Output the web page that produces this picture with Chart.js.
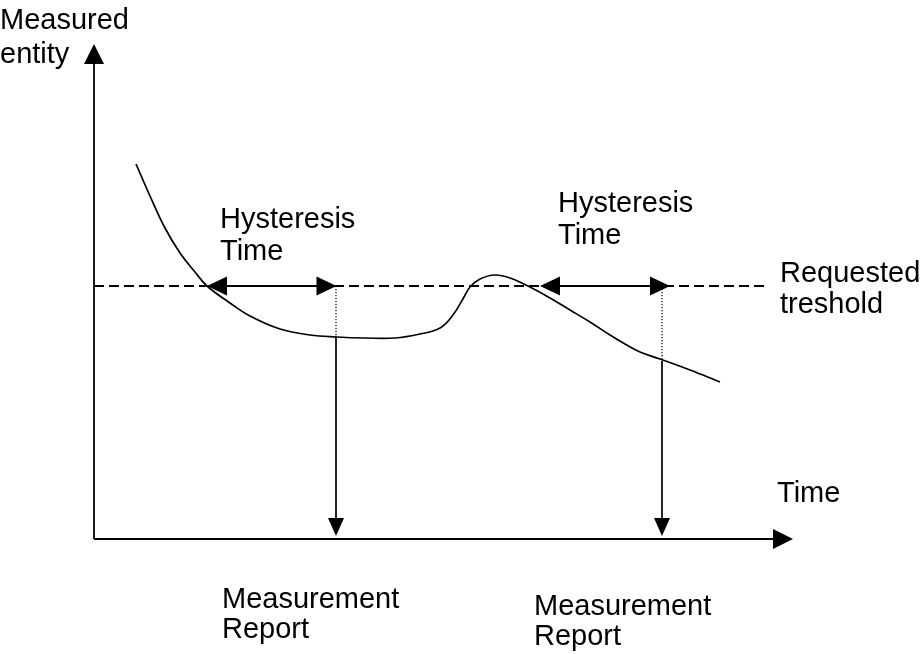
<!DOCTYPE html>
<html>
<head>
<meta charset="utf-8">
<script src="https://cdn.jsdelivr.net/npm/chart.js@4/dist/chart.umd.min.js"></script>
<style>
  html, body { margin: 0; padding: 0; background: #ffffff; }
  #wrap { width: 921px; height: 654px; }
</style>
</head>
<body>
<div id="wrap"><canvas id="c" width="921" height="654"></canvas></div>
<script>
// ---- data (time units on x, measured entity on y) ----
const curveTime  = [8.4, 11.2, 14.2, 17.2, 20.2, 22.6, 27.2, 31.2, 37.2, 43.2, 48.6, 54.2, 60.2, 65.2, 69.2, 71.8, 74.0, 75.2, 77.2, 80.2, 83.2, 87.2, 91.2, 95.2, 99.2, 103.2, 106.2, 109.2, 113.2, 119.2, 125.2];
const curveValue = [75.0, 68.6, 62.2, 57.2, 53.4, 50.6, 47.2, 44.6, 42.0, 40.8, 40.4, 40.2, 40.2, 41.0, 42.2, 44.8, 48.4, 50.4, 52.0, 52.8, 52.2, 50.4, 48.2, 45.8, 43.4, 40.8, 39.0, 37.4, 36.0, 33.8, 31.4];
const threshold = 50.6;
const thresholdEnd = 134.2;
const hysteresisStart = [22.6, 89.2];
const hysteresisEnd   = [48.5, 115.2];
const reportTime  = [48.4, 113.6];
const reportLevel = [40.4, 35.6];
const reportTip = 0.6;
const axisXEnd = 139.8;
const axisYEnd = 99;

// ---- text ----
const labelTexts = [
  ['Measured', 'entity'],
  ['Hysteresis', 'Time'],
  ['Hysteresis', 'Time'],
  ['Requested', 'treshold'],
  ['Time'],
  ['Measurement', 'Report'],
  ['Measurement', 'Report']
];
const labelAnchorX = [-18.8, 25.2, 92.8, 137.2, 136.6, 25.6, 88.0];
const labelAnchorY = [102.1, 62.2, 65.5, 51.5, 7.5, -13.8, -15.2];
const labelLineGap = [34, 32, 32, 31.5, 32, 30, 30];

const black = '#000000';
const base = { showLine: true, pointRadius: 0, borderColor: black, clip: false, tension: 0, fill: false };

const datasets = [
  Object.assign({}, base, {
    label: 'curve',
    data: curveTime.map((t, i) => ({ x: t, y: curveValue[i] })),
    borderWidth: 1.7,
    tension: 0.4
  }),
  Object.assign({}, base, {
    label: 'threshold',
    data: [{ x: 0, y: threshold }, { x: thresholdEnd, y: threshold }],
    borderWidth: 1.9,
    borderDash: [10, 5]
  }),
  Object.assign({}, base, {
    label: 'yAxis',
    data: [{ x: 0, y: 0 }, { x: 0, y: axisYEnd - 3 }],
    borderWidth: 1.8
  }),
  Object.assign({}, base, {
    label: 'xAxis',
    data: [{ x: 0, y: 0 }, { x: axisXEnd - 3, y: 0 }],
    borderWidth: 1.8
  })
];
hysteresisStart.forEach((s, i) => {
  datasets.push(Object.assign({}, base, {
    label: 'hyst' + i,
    data: [{ x: s + 2, y: threshold }, { x: hysteresisEnd[i] - 2, y: threshold }],
    borderWidth: 2.2
  }));
});
reportTime.forEach((t, i) => {
  datasets.push(Object.assign({}, base, {
    label: 'dot' + i,
    data: [{ x: t, y: threshold }, { x: t, y: reportLevel[i] }],
    borderWidth: 1.2,
    borderDash: [1.2, 1.8]
  }));
  datasets.push(Object.assign({}, base, {
    label: 'rep' + i,
    data: [{ x: t, y: reportLevel[i] }, { x: t, y: reportTip + 3 }],
    borderWidth: 1.7
  }));
});

// arrowheads: [fromX, fromY, toX, toY, length, halfWidth]
const arrows = [
  [0, 0, 0, axisYEnd, 20, 10],
  [0, 0, axisXEnd, 0, 20, 10],
];
hysteresisStart.forEach((s, i) => {
  arrows.push([hysteresisEnd[i], threshold, s, threshold, 20, 9.5]);
  arrows.push([s, threshold, hysteresisEnd[i], threshold, 20, 9.5]);
});
reportTime.forEach((t, i) => {
  arrows.push([t, reportLevel[i], t, reportTip, 18, 8]);
});

const annotPlugin = {
  id: 'annot',
  afterDatasetsDraw(chart) {
    const ctx = chart.ctx;
    const xs = chart.scales.x, ys = chart.scales.y;
    ctx.save();
    ctx.fillStyle = black;
    arrows.forEach(a => {
      const fx = xs.getPixelForValue(a[0]), fy = ys.getPixelForValue(a[1]);
      const tx = xs.getPixelForValue(a[2]), ty = ys.getPixelForValue(a[3]);
      const ang = Math.atan2(ty - fy, tx - fx);
      const len = a[4], hw = a[5];
      const bx = tx - Math.cos(ang) * len, by = ty - Math.sin(ang) * len;
      const px = -Math.sin(ang) * hw, py = Math.cos(ang) * hw;
      ctx.beginPath();
      ctx.moveTo(tx, ty);
      ctx.lineTo(bx + px, by + py);
      ctx.lineTo(bx - px, by - py);
      ctx.closePath();
      ctx.fill();
    });
    ctx.font = '29px "Liberation Sans", Arial, sans-serif';
    ctx.textBaseline = 'alphabetic';
    ctx.textAlign = 'left';
    labelTexts.forEach((lines, i) => {
      const x = xs.getPixelForValue(labelAnchorX[i]);
      const y = ys.getPixelForValue(labelAnchorY[i]);
      lines.forEach((ln, j) => ctx.fillText(ln, x, y + j * labelLineGap[i]));
    });
    ctx.restore();
  }
};

new Chart(document.getElementById('c'), {
  type: 'scatter',
  data: { datasets },
  options: {
    responsive: false,
    animation: false,
    layout: { padding: { left: 94, right: 127, top: 44, bottom: 115 } },
    scales: {
      x: { type: 'linear', min: 0, max: 140, display: false },
      y: { type: 'linear', min: 0, max: 99, display: false }
    },
    plugins: { legend: { display: false }, tooltip: { enabled: false } }
  },
  plugins: [annotPlugin]
});
</script>
</body>
</html>
